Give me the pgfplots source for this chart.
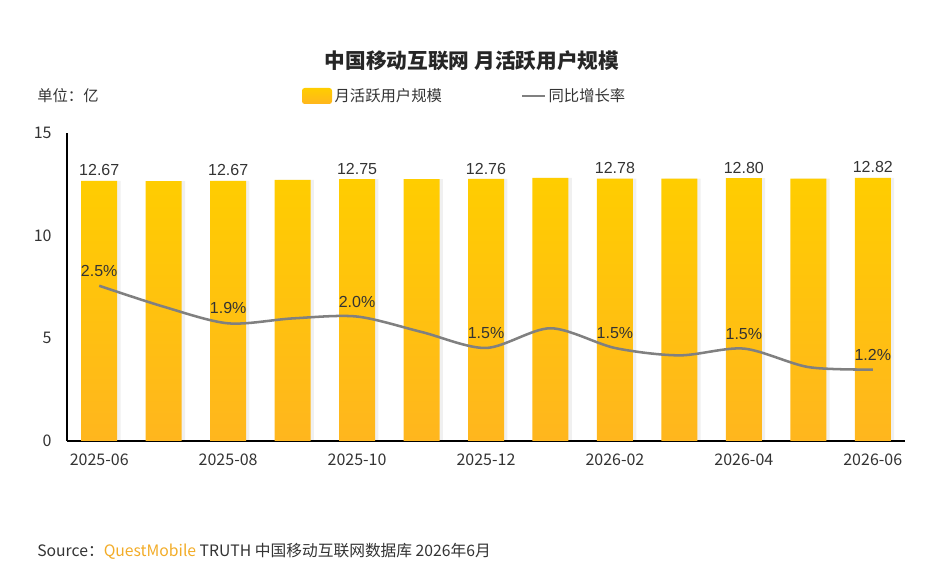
\documentclass[border=0pt]{standalone}
\usepackage{pgfplots}
\pgfplotsset{compat=1.18}
\usepackage{fontspec}
\setmainfont{Liberation Sans}
\newfontfamily\cjk{Noto Sans CJK SC}
\definecolor{bartop}{RGB}{255,205,0}
\definecolor{barbot}{RGB}{255,182,30}
\definecolor{linegray}{RGB}{128,128,128}
\definecolor{txt}{RGB}{51,51,51}
\definecolor{qm}{RGB}{242,172,40}
\begin{document}
\begin{tikzpicture}
\useasboundingbox (-50.25pt,-99pt) rectangle (658.5pt,330.75pt);
\begin{axis}[
  at={(0,0)}, anchor=south west,
  scale only axis, width=628.5pt, height=231pt,
  xmin=-0.5, xmax=12.5, ymin=0, ymax=15,
  axis lines*=left,
  axis line style={black, line width=0.8pt},
  xtick={0,2,...,12},
  xticklabels={2025-06,2025-08,2025-10,2025-12,2026-02,2026-04,2026-06},
  ytick={0,5,10,15},
  major tick length=0pt,
  /pgf/number format/assume math mode=true,
  tick label style={font=\cjk\fontsize{12}{14}\selectfont, text=txt},
  xticklabel style={yshift=-6pt},
  yticklabel style={xshift=-8pt},
  clip=false,
]
% shadow
\addplot[ybar, bar width=27pt, bar shift=2.5pt, draw=none, fill=black, fill opacity=0.06] coordinates {
(0,12.67) (1,12.66) (2,12.67) (3,12.72) (4,12.75) (5,12.75) (6,12.76) (7,12.82) (8,12.78) (9,12.78) (10,12.80) (11,12.78) (12,12.82)};
% bars
\addplot[ybar, bar width=27pt, bar shift=0pt, draw=none, top color=bartop, bottom color=barbot] coordinates {
(0,12.67) (1,12.66) (2,12.67) (3,12.72) (4,12.75) (5,12.75) (6,12.76) (7,12.82) (8,12.78) (9,12.78) (10,12.80) (11,12.78) (12,12.82)};
% bar labels
\addplot[draw=none, mark=none, point meta=y,
  nodes near coords={\pgfmathprintnumber[fixed,precision=2,zerofill,assume math mode=true]{\pgfplotspointmeta}},
  nodes near coords style={font=\fontsize{12}{14}\selectfont, text=txt, anchor=south}] coordinates {
(0,12.67) (2,12.67) (4,12.75) (6,12.76) (8,12.78) (10,12.80) (12,12.82)};
\end{axis}
\begin{axis}[
  at={(0,0)}, anchor=south west,
  scale only axis, width=628.5pt, height=231pt,
  xmin=-0.5, xmax=12.5, ymin=0, ymax=5,
  hide axis, clip=false,
]
\addplot[linegray, line width=1.9pt, smooth, mark=none] coordinates {
(0,2.52) (1,2.18) (2,1.91) (3,1.99) (4,2.02) (5,1.77) (6,1.51) (7,1.83) (8,1.51) (9,1.39) (10,1.50) (11,1.20) (12,1.16)};
\addplot[draw=none, mark=none, point meta=explicit symbolic,
  nodes near coords,
  nodes near coords style={font=\fontsize{12}{14}\selectfont, text=txt, anchor=south, yshift=3.5pt}] coordinates {
(0,2.52) [2.5\%] (2,1.91) [1.9\%] (4,2.02) [2.0\%] (6,1.51) [1.5\%] (8,1.51) [1.5\%] (10,1.50) [1.5\%] (12,1.16) [1.2\%]};
\end{axis}
% title
\node[font=\cjk\bfseries\fontsize{15.5}{18}\selectfont, text=black!85] at (303.75pt,285.5pt) {中国移动互联网 月活跃用户规模};
% unit
\node[font=\cjk\fontsize{11.5}{14}\selectfont, text=txt, anchor=west, inner sep=0pt] at (-22.5pt,258.75pt) {单位：亿};
% legend
\shade[top color=bartop, bottom color=barbot, rounded corners=2pt] (176.25pt,252.75pt) rectangle (198.75pt,264.75pt);
\node[font=\cjk\fontsize{11.5}{14}\selectfont, text=txt, anchor=west, inner sep=0pt] at (200.5pt,258.75pt) {月活跃用户规模};
\draw[linegray, line width=1.9pt] (341.25pt,258.75pt) -- (358.5pt,258.75pt);
\node[font=\cjk\fontsize{11.5}{14}\selectfont, text=txt, anchor=west, inner sep=0pt] at (361pt,258.75pt) {同比增长率};
% source
\node[font=\cjk\fontsize{11.8}{14}\selectfont, text=txt, anchor=west, inner sep=0pt] at (-22.5pt,-82.5pt) {Source：{\color{qm}QuestMobile} TRUTH 中国移动互联网数据库 2026年6月};
\end{tikzpicture}
\end{document}
